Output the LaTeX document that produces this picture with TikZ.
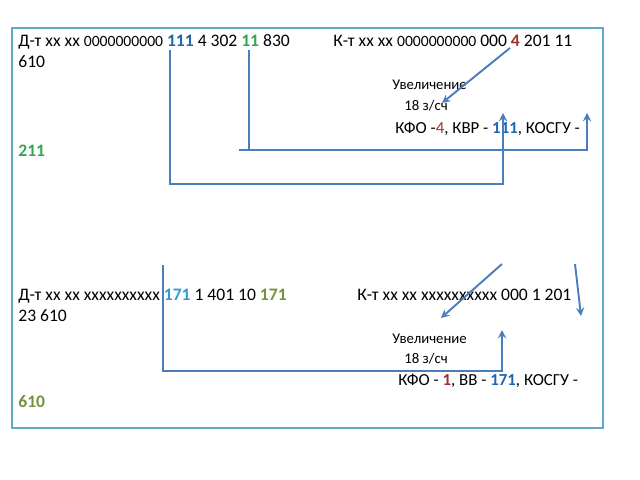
\documentclass[tikz,border=0pt]{standalone}
\usepackage{fontspec}
\setmainfont{Carlito}
\usetikzlibrary{positioning,calc,arrows,arrows.meta}

\definecolor{lineblue}{HTML}{4A7EBB}
\definecolor{boxblue}{HTML}{5FA8CC}
\definecolor{numblue}{HTML}{1F66B0}
\definecolor{numgreen}{HTML}{2FA84F}
\definecolor{numred}{HTML}{A0302C}
\definecolor{numcyan}{HTML}{2E9BD6}
\definecolor{numolive}{HTML}{76923C}

\newcommand{\zeros}{{\fontsize{8.9}{10}\selectfont 0000000000}}

\begin{document}
\begin{tikzpicture}[x=0.02cm, y=-0.02cm]
	\useasboundingbox (0,0) rectangle (640,480);
	\draw [boxblue, line width=1.2pt] (12,28) rectangle (603,428);

	\begin{scope}
		\tikzstyle{every node}=[anchor=base west, inner sep=0pt, font=\fontsize{10}{12}\selectfont]
		\tikzstyle{small}=[font=\fontsize{8.4}{10}\selectfont]
		\tikzstyle{kfoline}=[font=\fontsize{9.6}{11}\selectfont]
		\tikzstyle{conn}=[lineblue, line width=1.1pt]

		% first entry
		\node (dt1)  at (18, 47)  {Д-т xx xx \zeros{} \textbf{\color{numblue}111} 4 302 \textbf{\color{numgreen}11} 830};
		\node (dt1b) at (18, 68)  {610};
		\node (kt1)  at (333, 47) {К-т xx xx \zeros{} 000 \textbf{\color{numred}4} 201 11};
		\node [small] (inc1) at (392, 90)  {Увеличение};
		\node [small] (sch1) at (404, 111) {18 з/сч};
		\node [kfoline] (kfo1) at (395, 133) {КФО -{\color{numred}4}, КВР - \textbf{\color{numblue}111}, КОСГУ -};
		\node (kos1) at (18, 156) {\textbf{\color{numgreen}211}};

		% second entry
		\node (dt2)  at (18, 300)  {Д-т xx xx xxxxxxxxxx \textbf{\color{numcyan}171} 1 401 10 \textbf{\color{numolive}171}};
		\node (dt2b) at (18, 321)  {23 610};
		\node (kt2)  at (357, 300) {К-т xx xx xxxxxxxxxx 000 1 201};
		\node [small] (inc2) at (392, 343) {Увеличение};
		\node [small] (sch2) at (404, 363) {18 з/сч};
		\node [kfoline] (kfo2) at (398, 385) {КФО - \textbf{\color{numred}1}, ВВ - \textbf{\color{numblue}171}, КОСГУ -};
		\node (kos2) at (18, 407) {\textbf{\color{numolive}610}};

		\coordinate (kvr)   at (170, 50);
		\coordinate (kvrb)  at (503, 184);
		\coordinate (kvrt)  at (503, 113);
		\coordinate (kosg)  at (249, 50);
		\coordinate (kosgb) at (249, 150);
		\coordinate (kosgl) at (239, 150);
		\coordinate (kosgr) at (587, 150);
		\coordinate (kosgt) at (587, 113);
		\coordinate (kfo)   at (510, 48);
		\coordinate (kfot)  at (442, 103);

		\coordinate (vv)    at (163, 265);
		\coordinate (vvb)   at (502, 371);
		\coordinate (vvt)   at (502, 330);
		\coordinate (kfo2s) at (502, 264);
		\coordinate (kfo2t) at (441, 318);
		\coordinate (kos2s) at (575, 264);
		\coordinate (kos2t) at (581, 316);

		\draw [conn, ->, >=stealth] (kvr) |- (kvrb) to (kvrt);
		\draw [conn] (kosg) to (kosgb);
		\draw [conn, ->, >=stealth] (kosgl) to (kosgr) to (kosgt);
		\draw [conn, ->, >=stealth] (kfo) to (kfot);

		\draw [conn, ->, >=stealth] (vv) |- (vvb) to (vvt);
		\draw [conn, ->, >=stealth] (kfo2s) to (kfo2t);
		\draw [conn, ->, >=stealth] (kos2s) to (kos2t);
	\end{scope}
\end{tikzpicture}
\end{document}
